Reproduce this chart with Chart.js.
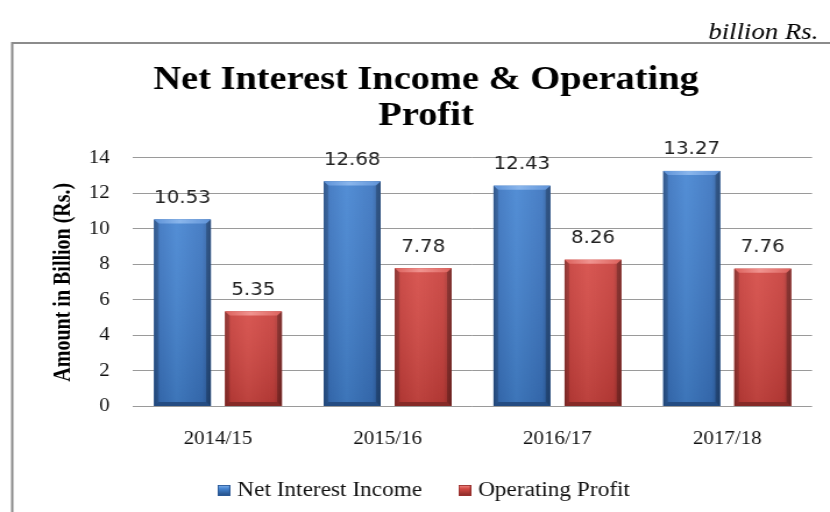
<!DOCTYPE html>
<html><head><meta charset="utf-8">
<script src="https://cdn.jsdelivr.net/npm/chart.js@4.4.1/dist/chart.umd.min.js"></script>
<style>html,body{margin:0;padding:0;background:#fff;overflow:hidden}
#c{display:block}</style></head>
<body><canvas id="c" width="713" height="512" style="width:830px;height:512px"></canvas>
<script>
const categories = ['2014/15', '2015/16', '2016/17', '2017/18'];
const netInterestIncome = [10.53, 12.68, 12.43, 13.27];
const operatingProfit = [5.35, 7.78, 8.26, 7.76];
const seriesNames = ['Net Interest Income', 'Operating Profit'];
const yTicks = [0, 2, 4, 6, 8, 10, 12, 14];
const titleLines = ['Net Interest Income & Operating', 'Profit'];
const yAxisTitle = 'Amount in Billion (Rs.)';
const unitNote = 'billion Rs.';

const SERIF = "'Liberation Serif', 'Times New Roman', serif";
const palettes = [
  {edge: '#2a5896', mid: '#3a74c0', light: '#4585d2', top0: '#5f93d8', top1: '#8ab6ec', bottom: '#244c82'},
  {edge: '#98302d', mid: '#c73e3a', light: '#d54a45', top0: '#dc625d', top1: '#f09490', bottom: '#862a27'}
];

function markerImage(pal) {
  const c = document.createElement('canvas');
  c.width = 11; c.height = 11;
  const x = c.getContext('2d');
  const g = x.createLinearGradient(0, 0, 0, 11);
  g.addColorStop(0, pal.top1); g.addColorStop(0.35, pal.light); g.addColorStop(1, pal.bottom);
  x.fillStyle = g; x.fillRect(0, 0, 11, 11);
  x.strokeStyle = pal.edge; x.lineWidth = 1; x.strokeRect(0.5, 0.5, 10, 10);
  return c;
}

const framePlugin = {
  id: 'frame',
  beforeDraw(chart) {
    const ctx = chart.ctx;
    ctx.save();
    ctx.fillStyle = '#fff';
    ctx.fillRect(0, 0, chart.width, chart.height);
    ctx.strokeStyle = '#8c8c8c';
    ctx.lineWidth = 2;
    ctx.beginPath();
    ctx.moveTo(10.5, chart.height + 5);
    ctx.lineTo(10.5, 43);
    ctx.lineTo(chart.width + 5, 43);
    ctx.stroke();
    ctx.fillStyle = '#000';
    ctx.font = "italic 23px " + SERIF;
    ctx.textAlign = 'right';
    ctx.textBaseline = 'alphabetic';
    ctx.fillText(unitNote, 703, 39);
    ctx.restore();
  }
};

function drawBar(ctx, el, pal) {
  const l = el.x - el.width / 2, r = el.x + el.width / 2;
  const t = Math.min(el.y, el.base), b = Math.max(el.y, el.base);
  const w = r - l, h = b - t, bv = 4;
  let g = ctx.createLinearGradient(l, 0, r, 0);
  g.addColorStop(0, pal.edge); g.addColorStop(0.1, pal.mid);
  g.addColorStop(0.4, pal.light); g.addColorStop(0.85, pal.mid); g.addColorStop(1, pal.edge);
  ctx.fillStyle = g; ctx.fillRect(l, t, w, h);
  let gv = ctx.createLinearGradient(0, t, 0, b);
  gv.addColorStop(0, 'rgba(255,255,255,0.08)'); gv.addColorStop(1, 'rgba(0,0,0,0.12)');
  ctx.fillStyle = gv; ctx.fillRect(l, t, w, h);
  ctx.beginPath(); ctx.moveTo(l, t); ctx.lineTo(r, t); ctx.lineTo(r - bv, t + bv); ctx.lineTo(l + bv, t + bv); ctx.closePath();
  let gt = ctx.createLinearGradient(l, 0, r, 0);
  gt.addColorStop(0, pal.top0); gt.addColorStop(0.45, pal.top1); gt.addColorStop(1, pal.top0);
  ctx.fillStyle = gt; ctx.fill();
  ctx.beginPath(); ctx.moveTo(l, b); ctx.lineTo(r, b); ctx.lineTo(r - bv, b - bv); ctx.lineTo(l + bv, b - bv); ctx.closePath();
  ctx.fillStyle = pal.bottom; ctx.fill();
  ctx.beginPath(); ctx.moveTo(l, t); ctx.lineTo(l + bv, t + bv); ctx.lineTo(l + bv, b - bv); ctx.lineTo(l, b); ctx.closePath();
  ctx.fillStyle = 'rgba(0,0,0,0.12)'; ctx.fill();
  ctx.beginPath(); ctx.moveTo(r, t); ctx.lineTo(r - bv, t + bv); ctx.lineTo(r - bv, b - bv); ctx.lineTo(r, b); ctx.closePath();
  ctx.fillStyle = 'rgba(0,0,0,0.22)'; ctx.fill();
}

const barStylePlugin = {
  id: 'barStyle',
  afterDatasetsDraw(chart) {
    const ctx = chart.ctx;
    ctx.save();
    chart.data.datasets.forEach((ds, i) => {
      const meta = chart.getDatasetMeta(i);
      meta.data.forEach((el) => drawBar(ctx, el, palettes[i]));
    });
    ctx.font = "17px 'DejaVu Sans', sans-serif";
    ctx.fillStyle = '#222';
    ctx.textAlign = 'center';
    ctx.textBaseline = 'middle';
    chart.data.datasets.forEach((ds, i) => {
      const meta = chart.getDatasetMeta(i);
      meta.data.forEach((el, j) => {
        ctx.fillText(ds.data[j].toFixed(2), el.x, el.y - 21);
      });
    });
    ctx.restore();
  }
};

new Chart(document.getElementById('c'), {
  type: 'bar',
  data: {
    labels: categories,
    datasets: [
      {label: seriesNames[0], data: netInterestIncome, backgroundColor: '#3a74c0', borderWidth: 0,
       pointStyle: markerImage(palettes[0]),
       categoryPercentage: 0.837, barPercentage: 0.8},
      {label: seriesNames[1], data: operatingProfit, backgroundColor: '#c73e3a', borderWidth: 0,
       pointStyle: markerImage(palettes[1]),
       categoryPercentage: 0.837, barPercentage: 0.8}
    ]
  },
  options: {
    responsive: false,
    animation: false,
    devicePixelRatio: 1,
    layout: {padding: {left: 34.4, right: 15.4, top: 43, bottom: 1.7}},
    plugins: {
      title: {
        display: true, text: titleLines, color: '#000',
        font: {family: SERIF, size: 33, weight: 'bold', lineHeight: 1.09},
        padding: {top: 19.2, bottom: 23.8}
      },
      legend: {
        position: 'bottom',
        labels: {
          color: '#111', font: {family: SERIF, size: 20},
          usePointStyle: true, pointStyleWidth: 3, boxHeight: 11, padding: 35
        }
      },
      tooltip: {enabled: false}
    },
    scales: {
      x: {
        grid: {display: false},
        border: {display: false},
        ticks: {color: '#111', font: {family: SERIF, size: 18}, padding: 14, maxRotation: 0},
        afterFit(scale) { scale.height = 38.8; }
      },
      y: {
        min: 0, max: 14,
        afterBuildTicks(scale) { scale.ticks = yTicks.map(v => ({value: v})); },
        grid: {color: '#9a9a9a', lineWidth: 1, drawTicks: false},
        border: {display: false},
        ticks: {color: '#111', font: {family: SERIF, size: 18}, padding: 20},
        title: {display: true, text: yAxisTitle, color: '#000',
                font: {family: SERIF, size: 20, weight: 'bold'}, padding: {top: 8.4, bottom: 0}},
        afterFit(scale) { scale.width = 79.9; }
      }
    }
  },
  plugins: [framePlugin, barStylePlugin]
});
</script>
</body></html>
